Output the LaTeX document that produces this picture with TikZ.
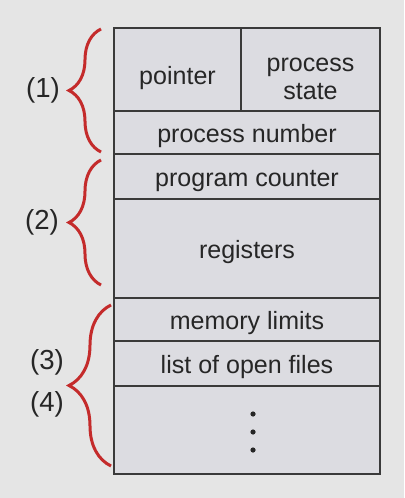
\documentclass[tikz,border=0pt]{standalone}
\usepackage{fontspec}
\setmainfont{Liberation Sans}
\usepackage{xcolor}
\definecolor{pcbback}{HTML}{E5E5E5}
\definecolor{pcbcell}{HTML}{DCDCE1}
\definecolor{pcbline}{HTML}{3A3A3A}
\definecolor{pcbred}{HTML}{C42B2B}
\usepackage{tikz}
\usetikzlibrary{decorations.pathreplacing}

\begin{document}
\begin{tikzpicture}[x=0.025cm, y=-0.025cm,
    cell/.style={draw=pcbline, fill=pcbcell, line width=0.05cm, inner sep=0pt,
                 outer sep=0pt, text=black!85, align=center,
                 font=\fontsize{17.8}{19.9}\selectfont},
    grp/.style={draw=pcbred, line width=0.075cm, decorate,
                decoration={brace, amplitude=#1}},
    grplabel/.style={text=black!85, font=\fontsize{19.6}{19.9}\selectfont}]
      \fill[pcbback] (0,0) rectangle (404,498);
      \useasboundingbox (0,0) rectangle (404,498);
      % the cells of the block
      \foreach \name/\xa/\xb/\ya/\yb/\th/\txt in {
        ptr/114/241/28/111/0.9/pointer,
        pstate/241/380/28/111/1.5/{process\\state},
        pnum/114/380/111/154/0.62/process number,
        pc/114/380/154/199/0.62/program counter,
        regs/114/380/199/298/0.62/registers,
        mem/114/380/298/341/0.62/memory limits,
        files/114/380/341/386/0.62/list of open files,
        more/114/380/386/474/0/{}}{
        \node[cell, minimum width={(\xb-\xa)*0.025cm},
              minimum height={(\yb-\ya)*0.025cm}, text height=\th cm]
              (\name) at ({(\xa+\xb)/2},{(\ya+\yb)/2}) {\txt};
      }
      % the dots in the last cell
      \foreach \y in {414,432,450}
        \fill[black!85] (253,\y) circle (0.065cm);
      % braces with their numbers
      \coordinate (b1top) at (101,29);
      \coordinate (b1bot) at (101,152);
      \coordinate (b2top) at (101,160);
      \coordinate (b2bot) at (101,285);
      \coordinate (b3top) at (111,305);
      \coordinate (b3bot) at (111,466);
      \draw[grp=0.8cm] (b1bot) -- (b1top);
      \draw[grp=0.8cm] (b2bot) -- (b2top);
      \draw[grp=1.05cm] (b3bot) -- (b3top);
      \node[grplabel] (l1) at (43,90) {(1)};
      \node[grplabel] (l2) at (42,222) {(2)};
      \node[grplabel] (l3) at (47,362) {(3)};
      \node[grplabel] (l4) at (47,404) {(4)};
    \end{tikzpicture}
\end{document}
